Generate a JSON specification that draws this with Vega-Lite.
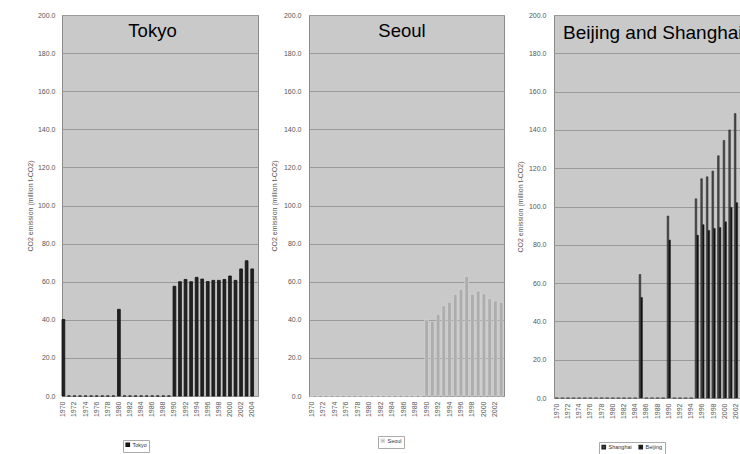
{
  "$schema": "https://vega.github.io/schema/vega-lite/v6.json",
  "background": "white",
  "padding": {"left": 25, "top": 10, "right": 0, "bottom": 0},
  "spacing": 11,
  "datasets": {
    "tokyo": [
      {"year": 1970, "co2": 40.2, "city": "Tokyo"}, {"year": 1971, "co2": 0, "city": "Tokyo"}, {"year": 1972, "co2": 0, "city": "Tokyo"},
      {"year": 1973, "co2": 0, "city": "Tokyo"}, {"year": 1974, "co2": 0, "city": "Tokyo"}, {"year": 1975, "co2": 0, "city": "Tokyo"},
      {"year": 1976, "co2": 0, "city": "Tokyo"}, {"year": 1977, "co2": 0, "city": "Tokyo"}, {"year": 1978, "co2": 0, "city": "Tokyo"},
      {"year": 1979, "co2": 0, "city": "Tokyo"}, {"year": 1980, "co2": 45.5, "city": "Tokyo"}, {"year": 1981, "co2": 0, "city": "Tokyo"},
      {"year": 1982, "co2": 0, "city": "Tokyo"}, {"year": 1983, "co2": 0, "city": "Tokyo"}, {"year": 1984, "co2": 0, "city": "Tokyo"},
      {"year": 1985, "co2": 0, "city": "Tokyo"}, {"year": 1986, "co2": 0, "city": "Tokyo"}, {"year": 1987, "co2": 0, "city": "Tokyo"},
      {"year": 1988, "co2": 0, "city": "Tokyo"}, {"year": 1989, "co2": 0, "city": "Tokyo"}, {"year": 1990, "co2": 57.6, "city": "Tokyo"},
      {"year": 1991, "co2": 60.0, "city": "Tokyo"}, {"year": 1992, "co2": 61.2, "city": "Tokyo"}, {"year": 1993, "co2": 60.0, "city": "Tokyo"},
      {"year": 1994, "co2": 62.3, "city": "Tokyo"}, {"year": 1995, "co2": 61.4, "city": "Tokyo"}, {"year": 1996, "co2": 60.1, "city": "Tokyo"},
      {"year": 1997, "co2": 60.7, "city": "Tokyo"}, {"year": 1998, "co2": 60.7, "city": "Tokyo"}, {"year": 1999, "co2": 61.2, "city": "Tokyo"},
      {"year": 2000, "co2": 63.0, "city": "Tokyo"}, {"year": 2001, "co2": 60.7, "city": "Tokyo"}, {"year": 2002, "co2": 66.7, "city": "Tokyo"},
      {"year": 2003, "co2": 71.0, "city": "Tokyo"}, {"year": 2004, "co2": 66.7, "city": "Tokyo"}
    ],
    "seoul": [
      {"year": 1970, "co2": 0, "city": "Seoul"}, {"year": 1971, "co2": 0, "city": "Seoul"}, {"year": 1972, "co2": 0, "city": "Seoul"},
      {"year": 1973, "co2": 0, "city": "Seoul"}, {"year": 1974, "co2": 0, "city": "Seoul"}, {"year": 1975, "co2": 0, "city": "Seoul"},
      {"year": 1976, "co2": 0, "city": "Seoul"}, {"year": 1977, "co2": 0, "city": "Seoul"}, {"year": 1978, "co2": 0, "city": "Seoul"},
      {"year": 1979, "co2": 0, "city": "Seoul"}, {"year": 1980, "co2": 0, "city": "Seoul"}, {"year": 1981, "co2": 0, "city": "Seoul"},
      {"year": 1982, "co2": 0, "city": "Seoul"}, {"year": 1983, "co2": 0, "city": "Seoul"}, {"year": 1984, "co2": 0, "city": "Seoul"},
      {"year": 1985, "co2": 0, "city": "Seoul"}, {"year": 1986, "co2": 0, "city": "Seoul"}, {"year": 1987, "co2": 0, "city": "Seoul"},
      {"year": 1988, "co2": 0, "city": "Seoul"}, {"year": 1989, "co2": 0, "city": "Seoul"}, {"year": 1990, "co2": 40.0, "city": "Seoul"},
      {"year": 1991, "co2": 39.2, "city": "Seoul"}, {"year": 1992, "co2": 42.9, "city": "Seoul"}, {"year": 1993, "co2": 47.4, "city": "Seoul"},
      {"year": 1994, "co2": 49.2, "city": "Seoul"}, {"year": 1995, "co2": 53.4, "city": "Seoul"}, {"year": 1996, "co2": 56.0, "city": "Seoul"},
      {"year": 1997, "co2": 62.8, "city": "Seoul"}, {"year": 1998, "co2": 53.4, "city": "Seoul"}, {"year": 1999, "co2": 55.1, "city": "Seoul"},
      {"year": 2000, "co2": 53.7, "city": "Seoul"}, {"year": 2001, "co2": 51.1, "city": "Seoul"}, {"year": 2002, "co2": 49.9, "city": "Seoul"},
      {"year": 2003, "co2": 49.2, "city": "Seoul"}
    ],
    "bs": [
      {"year": 1970, "co2": 0, "city": "Shanghai"}, {"year": 1970, "co2": 0, "city": "Beijing"},
      {"year": 1971, "co2": 0, "city": "Shanghai"}, {"year": 1971, "co2": 0, "city": "Beijing"},
      {"year": 1972, "co2": 0, "city": "Shanghai"}, {"year": 1972, "co2": 0, "city": "Beijing"},
      {"year": 1973, "co2": 0, "city": "Shanghai"}, {"year": 1973, "co2": 0, "city": "Beijing"},
      {"year": 1974, "co2": 0, "city": "Shanghai"}, {"year": 1974, "co2": 0, "city": "Beijing"},
      {"year": 1975, "co2": 0, "city": "Shanghai"}, {"year": 1975, "co2": 0, "city": "Beijing"},
      {"year": 1976, "co2": 0, "city": "Shanghai"}, {"year": 1976, "co2": 0, "city": "Beijing"},
      {"year": 1977, "co2": 0, "city": "Shanghai"}, {"year": 1977, "co2": 0, "city": "Beijing"},
      {"year": 1978, "co2": 0, "city": "Shanghai"}, {"year": 1978, "co2": 0, "city": "Beijing"},
      {"year": 1979, "co2": 0, "city": "Shanghai"}, {"year": 1979, "co2": 0, "city": "Beijing"},
      {"year": 1980, "co2": 0, "city": "Shanghai"}, {"year": 1980, "co2": 0, "city": "Beijing"},
      {"year": 1981, "co2": 0, "city": "Shanghai"}, {"year": 1981, "co2": 0, "city": "Beijing"},
      {"year": 1982, "co2": 0, "city": "Shanghai"}, {"year": 1982, "co2": 0, "city": "Beijing"},
      {"year": 1983, "co2": 0, "city": "Shanghai"}, {"year": 1983, "co2": 0, "city": "Beijing"},
      {"year": 1984, "co2": 0, "city": "Shanghai"}, {"year": 1984, "co2": 0, "city": "Beijing"},
      {"year": 1985, "co2": 64.5, "city": "Shanghai"}, {"year": 1985, "co2": 52.5, "city": "Beijing"},
      {"year": 1986, "co2": 0, "city": "Shanghai"}, {"year": 1986, "co2": 0, "city": "Beijing"},
      {"year": 1987, "co2": 0, "city": "Shanghai"}, {"year": 1987, "co2": 0, "city": "Beijing"},
      {"year": 1988, "co2": 0, "city": "Shanghai"}, {"year": 1988, "co2": 0, "city": "Beijing"},
      {"year": 1989, "co2": 0, "city": "Shanghai"}, {"year": 1989, "co2": 0, "city": "Beijing"},
      {"year": 1990, "co2": 95.0, "city": "Shanghai"}, {"year": 1990, "co2": 82.5, "city": "Beijing"},
      {"year": 1991, "co2": 0, "city": "Shanghai"}, {"year": 1991, "co2": 0, "city": "Beijing"},
      {"year": 1992, "co2": 0, "city": "Shanghai"}, {"year": 1992, "co2": 0, "city": "Beijing"},
      {"year": 1993, "co2": 0, "city": "Shanghai"}, {"year": 1993, "co2": 0, "city": "Beijing"},
      {"year": 1994, "co2": 0, "city": "Shanghai"}, {"year": 1994, "co2": 0, "city": "Beijing"},
      {"year": 1995, "co2": 104.0, "city": "Shanghai"}, {"year": 1995, "co2": 85.0, "city": "Beijing"},
      {"year": 1996, "co2": 114.5, "city": "Shanghai"}, {"year": 1996, "co2": 90.5, "city": "Beijing"},
      {"year": 1997, "co2": 115.5, "city": "Shanghai"}, {"year": 1997, "co2": 87.5, "city": "Beijing"},
      {"year": 1998, "co2": 118.5, "city": "Shanghai"}, {"year": 1998, "co2": 88.5, "city": "Beijing"},
      {"year": 1999, "co2": 126.5, "city": "Shanghai"}, {"year": 1999, "co2": 89.0, "city": "Beijing"},
      {"year": 2000, "co2": 134.5, "city": "Shanghai"}, {"year": 2000, "co2": 92.0, "city": "Beijing"},
      {"year": 2001, "co2": 140.0, "city": "Shanghai"}, {"year": 2001, "co2": 99.5, "city": "Beijing"},
      {"year": 2002, "co2": 148.5, "city": "Shanghai"}, {"year": 2002, "co2": 102.0, "city": "Beijing"}
    ]
  },
  "hconcat": [
    {
      "data": {"name": "tokyo"},
      "width": 196,
      "height": 381,
      "title": {"text": "Tokyo", "fontSize": 18.5, "anchor": "middle", "frame": "group", "offset": -29, "dx": -7.5},
      "mark": {"type": "bar", "stroke": "#111111", "strokeWidth": 0.8},
      "encoding": {
        "x": {"field": "year", "type": "ordinal", "scale": {"paddingInner": 0.5, "paddingOuter": 0.4, "align": 0},
              "axis": {"values": [1970,1972,1974,1976,1978,1980,1982,1984,1986,1988,1990,1992,1994,1996,1998,2000,2002,2004]}},
        "y": {"field": "co2", "type": "quantitative", "scale": {"domain": [0, 200], "nice": false},
              "axis": {"title": "CO2 emission (million t-CO2)", "labelPadding": 7, "titlePadding": 4}},
        "color": {"field": "city", "type": "nominal", "scale": {"domain": ["Tokyo"], "range": ["#222222"]},
                  "legend": {"orient": "none", "legendX": 61, "legendY": 425}}
      }
    },
    {
      "data": {"name": "seoul"},
      "width": 195,
      "height": 381,
      "title": {"text": "Seoul", "fontSize": 18.5, "anchor": "middle", "frame": "group", "offset": -29, "dx": -4.5},
      "mark": {"type": "bar", "stroke": "#dcdcdc", "strokeWidth": 0.6},
      "encoding": {
        "x": {"field": "year", "type": "ordinal", "scale": {"paddingInner": 0.35, "paddingOuter": 0.175},
              "axis": {"values": [1970,1972,1974,1976,1978,1980,1982,1984,1986,1988,1990,1992,1994,1996,1998,2000,2002]}},
        "y": {"field": "co2", "type": "quantitative", "scale": {"domain": [0, 200], "nice": false},
              "axis": {"title": "CO2 emission (million t-CO2)", "labelPadding": 8, "titlePadding": 5.5}},
        "color": {"field": "city", "type": "nominal", "scale": {"domain": ["Seoul"], "range": ["#adadad"]},
                  "legend": {"orient": "none", "legendX": 69, "legendY": 421}}
      }
    },
    {
      "data": {"name": "bs"},
      "width": 196,
      "height": 383,
      "title": {"text": "Beijing and Shanghai", "fontSize": 19, "anchor": "start", "frame": "group", "offset": -32, "dx": 9},
      "mark": {"type": "bar", "stroke": "#222222", "strokeWidth": 0.5},
      "encoding": {
        "x": {"field": "year", "type": "ordinal",
              "scale": {"domain": [1970,1971,1972,1973,1974,1975,1976,1977,1978,1979,1980,1981,1982,1983,1984,1985,1986,1987,1988,1989,1990,1991,1992,1993,1994,1995,1996,1997,1998,1999,2000,2001,2002,2003,2004], "paddingInner": 0.4, "paddingOuter": 0.2},
              "axis": {"values": [1970,1972,1974,1976,1978,1980,1982,1984,1986,1988,1990,1992,1994,1996,1998,2000,2002,2004]}},
        "xOffset": {"field": "city", "type": "nominal", "sort": ["Shanghai", "Beijing"]},
        "y": {"field": "co2", "type": "quantitative", "scale": {"domain": [0, 200], "nice": false},
              "axis": {"title": "CO2 emission (million t-CO2)", "labelPadding": 8, "titlePadding": 4.5}},
        "color": {"field": "city", "type": "nominal", "scale": {"domain": ["Shanghai", "Beijing"], "range": ["#4a4a4a", "#111111"]},
                  "legend": {"orient": "none", "legendX": 45, "legendY": 427, "direction": "horizontal", "columns": 2}}
      }
    }
  ],
  "resolve": {"scale": {"x": "independent", "y": "independent", "color": "independent"}, "legend": {"color": "independent"}},
  "config": {
    "font": "Liberation Sans",
    "view": {"fill": "#c9c9c9", "stroke": "#8a8a8a", "strokeWidth": 1},
    "title": {"font": "Liberation Sans", "fontWeight": "normal", "color": "#000000", "baseline": "alphabetic"},
    "axis": {"labelFont": "Liberation Sans", "labelFontSize": 7, "labelColor": "#555555", "titleFont": "Liberation Sans", "titleFontSize": 7, "titleFontWeight": "normal", "titleColor": "#555555", "ticks": false, "domain": false},
    "axisY": {"grid": true, "gridColor": "#9a9a9a", "gridWidth": 1, "values": [0,20,40,60,80,100,120,140,160,180,200], "format": ".1f"},
    "axisX": {"grid": false, "labelAngle": -90, "labelPadding": 5, "title": null},
    "legend": {"title": null, "strokeColor": "#aaaaaa", "padding": 2, "symbolType": "square", "symbolSize": 10, "labelFontSize": 5.5, "labelFont": "Liberation Sans", "labelColor": "#333333", "labelOffset": 2, "columnPadding": 4, "rowPadding": 0}
  }
}
